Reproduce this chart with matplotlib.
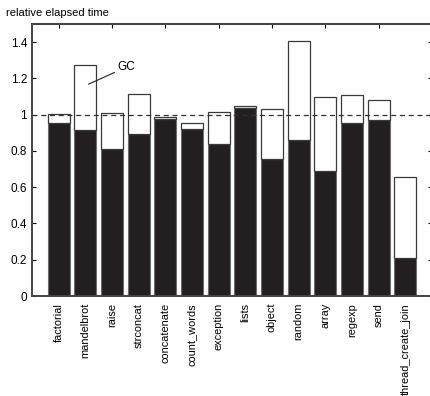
import numpy as np
import matplotlib.pyplot as plt

plt.rcParams['font.family'] = ['Liberation Sans', 'DejaVu Sans']

benchmarks = ["factorial", "mandelbrot", "raise", "strconcat", "concatenate",
              "count_words", "exception", "lists", "object", "random",
              "array", "regexp", "send", "thread_create_join"]
# time without GC (black) and total elapsed time incl. GC (white on top)
mutator = [0.952, 0.913, 0.808, 0.895, 0.978, 0.919, 0.839,
           1.035, 0.753, 0.863, 0.688, 0.954, 0.968, 0.212]
total = [1.003, 1.274, 1.009, 1.116, 0.989, 0.956, 1.014,
         1.048, 1.033, 1.404, 1.099, 1.107, 1.081, 0.659]
gc = [t - m for t, m in zip(total, mutator)]
yticks = [0, 0.2, 0.4, 0.6, 0.8, 1.0, 1.2, 1.4]
ytick_labels = ["0", "0.2", "0.4", "0.6", "0.8", "1", "1.2", "1.4"]

fig = plt.figure(figsize=(4.3, 3.96), dpi=100)
ax = fig.add_axes([0.0744, 0.2525, 0.9302, 0.6869])

x = np.arange(1, len(benchmarks) + 1)
ax.bar(x, mutator, width=0.82, color='#231f20', edgecolor='#6e6e6e', linewidth=0.8)
ax.bar(x, gc, width=0.82, bottom=mutator, color='white', edgecolor='#3a3a3a', linewidth=0.9)

ax.axhline(1.0, color='#333333', linestyle=(0, (4, 3)), linewidth=0.9)

ax.annotate("GC", xy=(2.12, 1.168), xytext=(3.2, 1.262), fontsize=8.5,
            va='center', ha='left',
            arrowprops=dict(arrowstyle='-', color='#222222', lw=0.8, shrinkA=0, shrinkB=0))

ax.set_xlim(0, 15)
ax.set_ylim(0, 1.5)
ax.set_xticks(x)
ax.set_xticklabels(benchmarks, rotation=90, fontsize=7.9)
ax.set_yticks(yticks)
ax.set_yticklabels(ytick_labels, fontsize=8.5)
ax.tick_params(axis='x', length=0, pad=5)
ax.tick_params(axis='y', direction='in', length=3, right=True, width=0.8)

top = ax.secondary_xaxis('top')
top.set_xticks(np.arange(1, 16, 2))
top.set_xticklabels([])
top.tick_params(direction='in', length=3, width=0.8)
for side in ['left', 'right', 'bottom']:
    top.spines[side].set_visible(False)
top.spines['top'].set_linewidth(1.4)
top.spines['top'].set_color('#444444')

for side in ['left', 'bottom', 'top']:
    ax.spines[side].set_linewidth(1.4)
    ax.spines[side].set_color('#444444')
ax.spines['right'].set_visible(False)

fig.text(0.014, 0.968, "relative elapsed time", fontsize=8, ha='left', va='center')

fig.savefig("out.png", dpi=100)
